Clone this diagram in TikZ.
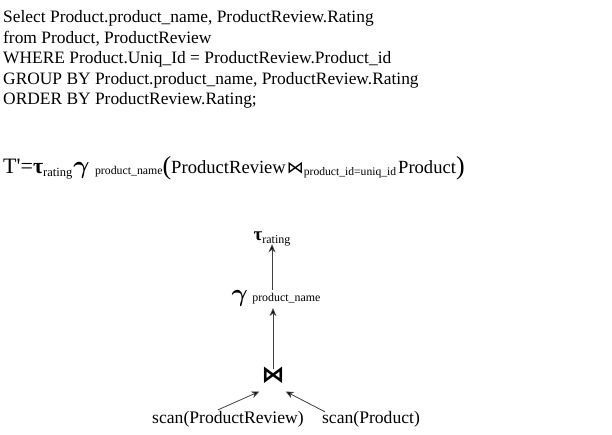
\documentclass[tikz,border=0pt]{standalone}
\usepackage{fontspec}
\setmainfont{Liberation Serif}
\newfontfamily\symfont{DejaVu Sans}
\usetikzlibrary{arrows.meta}
\newcommand{\mygam}[1]{{\fontsize{#1}{#1}\selectfont\boldmath$\gamma$}}
\begin{document}
\begin{tikzpicture}[x=1pt,y=-1pt,
  sqltext/.style={anchor=base west,inner sep=0pt,font=\fontsize{17.4}{20}\selectfont},
  treenode/.style={inner sep=0pt,font=\fontsize{17.6}{20}\selectfont},
  arr/.style={draw=black!75,line width=0.8pt,-{Stealth[length=8pt,width=7pt,fill=black]}}]
\useasboundingbox[fill=white] (0,0) rectangle (612,434);
\node[sqltext] (l1) at (3,22.5) {Select Product.product\_name, ProductReview.Rating};
\node[sqltext] (l2) at (3,43) {from Product, ProductReview};
\node[sqltext] (l3) at (3,63.5) {WHERE Product.Uniq\_Id = ProductReview.Product\_id};
\node[sqltext] (l4) at (3,84) {GROUP BY Product.product\_name, ProductReview.Rating};
\node[sqltext] (l5) at (3,104.5) {ORDER BY ProductReview.Rating;};
\node[anchor=base west,inner sep=0pt] (formula) at (3,173) {%
  \fontsize{22}{26}\selectfont T\textquotesingle=\hspace{0pt}{\bfseries τ}\raisebox{-3pt}{\fontsize{12.5}{14}\selectfont rating}%
  \hspace{1pt}\mygam{23}\ \raisebox{-1pt}{\fontsize{11.8}{13}\selectfont product\_name}%
  \raisebox{-1pt}{\fontsize{26}{30}\selectfont(}%
  \fontsize{18.6}{22}\selectfont ProductReview\hspace{1pt}{\symfont\fontsize{17}{20}\selectfont ⋈}%
  \raisebox{-2pt}{\fontsize{11.6}{13}\selectfont product\_id=uniq\_id}\hspace{2pt}Product%
  \raisebox{-1pt}{\fontsize{26}{30}\selectfont)}};
\node[treenode] (tau) at (272,239) {{\bfseries\fontsize{19}{20}\selectfont τ}\raisebox{-3pt}{\fontsize{12}{13}\selectfont rating}};
\node[treenode] (gamma) at (276,298) {\mygam{24}\ {\fontsize{11.9}{13}\selectfont product\_name}};
\node[treenode] (join) at (273,375) {{\symfont\bfseries\fontsize{23}{24}\selectfont ⋈}};
\node[treenode] (scanPR) at (228,419) {scan(ProductReview)};
\node[treenode] (scanP) at (371,419) {scan(Product)};
\draw[arr] (gamma.north -| tau) -- ([yshift=2pt]tau.south);
\draw[arr] ([yshift=-3pt]join.north) -- ([yshift=-2pt]gamma.south -| join);
\draw[arr] ([xshift=-10pt,yshift=1pt]scanPR.north) -- ([xshift=-2pt,yshift=-8pt]join.south west);
\draw[arr] ([xshift=-46pt,yshift=-1pt]scanP.north) -- ([xshift=1pt,yshift=-8pt]join.south east);
\end{tikzpicture}
\end{document}
